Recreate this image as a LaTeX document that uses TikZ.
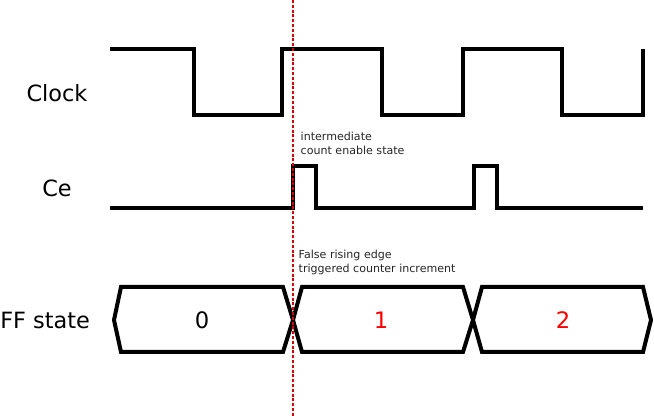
\documentclass[tikz,border=0pt]{standalone}
\usepackage{fontspec}
\setmainfont{DejaVu Sans}
\begin{document}
\begin{tikzpicture}[
  x=0.75pt, y=-0.75pt,
  wave/.style={line width=3pt, black},
  marker/.style={red!85!black, line width=0.8pt, dash pattern=on 2.2pt off 1.4pt},
  lbl/.style={font=\fontsize{16.8}{20}\selectfont},
  note/.style={font=\fontsize{8.3}{10.5}\selectfont, align=left, anchor=west, text=black!85},
  val/.style={font=\fontsize{17}{20}\selectfont}
]
\useasboundingbox (0,0) rectangle (654,416);

% ---- Signal names ----
\node[lbl] (clk) at (57,93) {Clock};
\node[lbl] (ce) at (57,188) {Ce};
\node[lbl, anchor=west, inner sep=0pt] (ff) at (0,320) {FF state};

% ---- Clock ----
\draw[wave] (110,49) -- (194,49) -- (194,115) -- (282,115) -- (282,49)
  -- (382,49) -- (382,115) -- (463,115) -- (463,49) -- (562,49)
  -- (562,115) -- (643,115) -- (643,49);

% ---- Ce ----
\draw[wave] (110,208) -- (293,208) -- (293,166) -- (316,166) -- (316,208)
  -- (474,208) -- (474,166) -- (497,166) -- (497,208) -- (643,208);
\node[note] (ceNote) at (296,143) {intermediate\\count enable state};

% ---- FF state ----
\draw[wave] (114,320) -- (121,287) -- (283,287) -- (293,320) -- (283,352) -- (121,352) -- cycle;
\draw[wave] (293,320) -- (302,287) -- (463,287) -- (473,320) -- (463,352) -- (302,352) -- cycle;
\draw[wave] (473,320) -- (482,287) -- (643,287) -- (651,320) -- (643,352) -- (482,352) -- cycle;
\node[val] (s0) at (202,320) {0};
\node[val, text=red] (s1) at (381,320) {1};
\node[val, text=red] (s2) at (563,320) {2};
\node[note] (ffNote) at (294,262) {False rising edge\\triggered counter increment};

% ---- Marker ----
\coordinate (mTop) at (293,0);
\coordinate (mBot) at (293,416);
\draw[marker] (mTop) -- (mBot);
\end{tikzpicture}
\end{document}
